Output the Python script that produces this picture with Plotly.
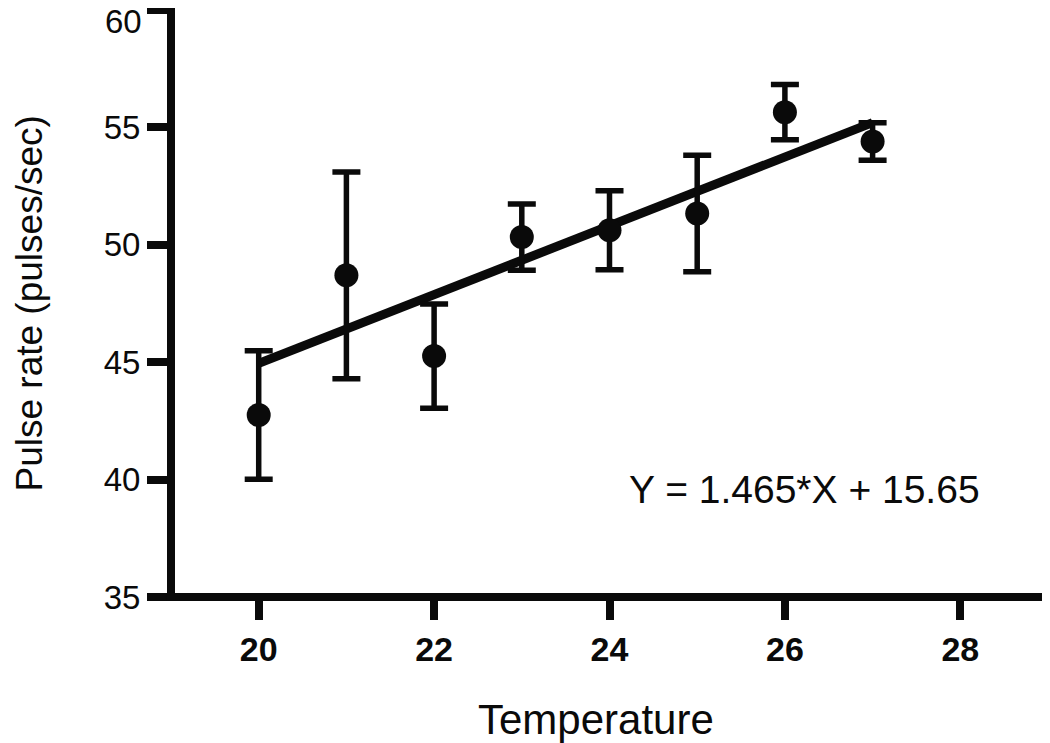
import plotly.graph_objects as go

temperature = [20, 21, 22, 23, 24, 25, 26, 27]
pulse_mean = [42.75, 48.7, 45.26, 50.33, 50.62, 51.33, 55.65, 54.4]
pulse_err = [2.74, 4.4, 2.22, 1.41, 1.68, 2.48, 1.18, 0.8]

slope = 1.465
intercept = 15.65
fit_x = [20, 27]
fit_y = [slope * x + intercept for x in fit_x]

x_ticks = [20, 22, 24, 26, 28]
y_ticks = [35, 40, 45, 50, 55, 60]
y_tick_text = ["35", "40", "45", "50", "55", ""]
top_tick_label = "60"

FONT = "Arial, Liberation Sans, sans-serif"
INK = "#0a0a0a"

fig = go.Figure()

fig.add_trace(go.Scatter(
    x=fit_x, y=fit_y, mode="lines",
    line=dict(color=INK, width=9),
    showlegend=False, hoverinfo="skip",
))

fig.add_trace(go.Scatter(
    x=temperature, y=pulse_mean, mode="markers",
    marker=dict(color=INK, size=24, line=dict(width=0)),
    error_y=dict(type="data", array=pulse_err, visible=True,
                 color=INK, thickness=5.5, width=14),
    showlegend=False,
))

fig.add_annotation(
    x=26.22, y=39.58, xref="x", yref="y",
    text="Y = 1.465*X + 15.65", showarrow=False,
    font=dict(family=FONT, size=39, color=INK),
)

# top y tick label (kept inside the page)
fig.add_annotation(
    x=0, y=1, xref="paper", yref="paper", xshift=-28, yshift=-11,
    xanchor="right", yanchor="middle", height=24, borderpad=0, valign="middle",
    text=top_tick_label, showarrow=False,
    font=dict(family=FONT, size=33, color=INK),
)

# axis titles
fig.add_annotation(
    x=0.485, y=0, xref="paper", yref="paper", yshift=-122,
    xanchor="center", yanchor="middle",
    text="Temperature", showarrow=False,
    font=dict(family=FONT, size=42, color=INK),
)
fig.add_annotation(
    x=0, y=0.5, xref="paper", yref="paper", xshift=-142,
    xanchor="center", yanchor="middle", textangle=-90,
    text="Pulse rate (pulses/sec)", showarrow=False,
    font=dict(family=FONT, size=37, color=INK),
    borderpad=0,
)

# axis lines
fig.add_shape(type="line", xref="paper", yref="paper", x0=-0.005, x1=1, y0=0, y1=0,
              line=dict(color=INK, width=8))
fig.add_shape(type="line", xref="paper", yref="paper", x0=0, x1=0, y0=-0.007, y1=1.007,
              line=dict(color=INK, width=8))

fig.update_layout(
    width=1050, height=743,
    margin=dict(l=163, r=10, t=2, b=154),
    paper_bgcolor="white", plot_bgcolor="white",
    font=dict(family=FONT, color=INK),
)

fig.update_xaxes(
    range=[19, 29], tickvals=x_ticks, showgrid=False, zeroline=False,
    showline=False, ticks="outside", ticklen=22, tickwidth=8, tickcolor=INK,
    tickfont=dict(family=FONT, size=34, color=INK, weight="bold"),
    ticklabeloverflow="allow", automargin=False,
)
fig.update_yaxes(
    range=[35, 60], tickvals=y_ticks, ticktext=y_tick_text,
    showgrid=False, zeroline=False,
    showline=False, ticks="outside", ticklen=23, tickwidth=8, tickcolor=INK,
    tickfont=dict(family=FONT, size=33, color=INK),
    ticklabeloverflow="allow", automargin=False,
)

fig.write_html("out.html")
